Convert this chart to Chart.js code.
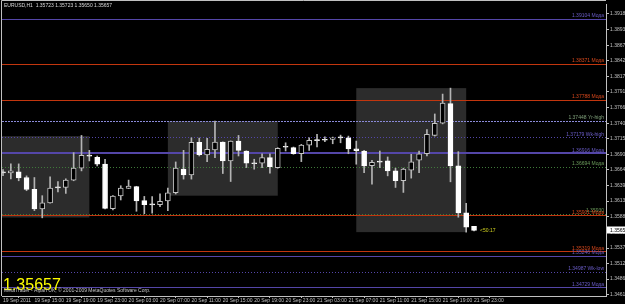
<!DOCTYPE html>
<html><head><meta charset="utf-8">
<script src="https://cdn.jsdelivr.net/npm/chart.js@4/dist/chart.umd.min.js"></script>
<style>html,body{margin:0;padding:0;background:#000;overflow:hidden}#wrap{width:625px;height:304px;position:relative}</style>
</head><body><div id="wrap"><canvas id="c" width="625" height="304"></canvas></div>
<script>
// ---------- data ----------
const symbol = 'EURUSD,H1';
const timeTicks = ['19 Sep 2011','19 Sep 15:00','19 Sep 19:00','19 Sep 23:00','20 Sep 03:00','20 Sep 07:00','20 Sep 11:00','20 Sep 15:00','20 Sep 19:00','20 Sep 23:00','21 Sep 03:00','21 Sep 07:00','21 Sep 11:00','21 Sep 15:00','21 Sep 19:00','21 Sep 23:00'];
const barsPerTick = 4;
const open  = [1.36600,1.36595,1.36611,1.36519,1.36325,1.36008,1.36105,1.36355,1.36357,1.36477,1.36671,1.36875,1.36849,1.36736,1.36012,1.36218,1.36341,1.36373,1.36142,1.36080,1.36077,1.36137,1.36271,1.36655,1.36563,1.37092,1.36886,1.36967,1.37097,1.36789,1.37113,1.36951,1.36748,1.36752,1.36843,1.36681,1.37012,1.37005,1.36907,1.37048,1.37120,1.37131,1.37141,1.37168,1.37166,1.36988,1.36951,1.36713,1.36770,1.36789,1.36627,1.36466,1.36639,1.36801,1.36907,1.37205,1.37404,1.37723,1.36708,1.35943,1.35723];
const high  = [1.36650,1.36741,1.36741,1.36546,1.36519,1.36223,1.36530,1.36454,1.36498,1.36924,1.37205,1.36962,1.36870,1.36817,1.36223,1.36385,1.36477,1.36376,1.36211,1.36207,1.36255,1.36347,1.36773,1.36962,1.37166,1.37162,1.37157,1.37437,1.37100,1.37115,1.37205,1.36955,1.36817,1.36907,1.36907,1.37005,1.37085,1.37016,1.37059,1.37166,1.37221,1.37183,1.37178,1.37210,1.37194,1.37113,1.36962,1.36801,1.36951,1.36854,1.36671,1.36671,1.36898,1.36951,1.37302,1.37555,1.37879,1.37976,1.36940,1.36098,1.35723];
const low   = [1.36550,1.36498,1.36466,1.36304,1.35980,1.35862,1.36100,1.36283,1.36260,1.36466,1.36627,1.36789,1.36708,1.36008,1.35991,1.36153,1.36338,1.35969,1.35927,1.35936,1.36045,1.35980,1.36250,1.36493,1.36493,1.36870,1.36778,1.36843,1.36584,1.36454,1.36870,1.36681,1.36655,1.36681,1.36590,1.36671,1.36951,1.36898,1.36778,1.36962,1.37016,1.37102,1.37069,1.37085,1.36907,1.36736,1.36600,1.36412,1.36681,1.36546,1.36357,1.36276,1.36509,1.36600,1.36870,1.37194,1.37393,1.36449,1.35872,1.35629,1.35650];
const close = [1.36595,1.36627,1.36514,1.36325,1.36008,1.36105,1.36347,1.36350,1.36477,1.36671,1.36882,1.36868,1.36736,1.36017,1.36218,1.36347,1.36380,1.36137,1.36077,1.36074,1.36131,1.36271,1.36671,1.36563,1.37092,1.36891,1.36979,1.37097,1.36789,1.37113,1.36962,1.36752,1.36744,1.36843,1.36697,1.36995,1.37018,1.36907,1.37048,1.37124,1.37126,1.37127,1.37166,1.37164,1.36984,1.36956,1.36708,1.36768,1.36776,1.36627,1.36466,1.36655,1.36773,1.36907,1.37221,1.37404,1.37733,1.36708,1.35943,1.35710,1.35657];
const priceTicks = [1.39185,1.38930,1.38675,1.38425,1.38170,1.37915,1.37660,1.37405,1.37150,1.36900,1.36645,1.36390,1.36135,1.35880,1.35625,1.35370,1.35120,1.34865,1.34610];
const priceMin = 1.34588, priceMax = 1.39347;
const barMin = -0.127, barMax = 76.81;
// horizontal levels
const levelPrices = [1.39104,1.38371,1.37788,1.37448,1.37179,1.36916,1.36694,1.35930,1.35901,1.35319,1.35246,1.34987,1.34729];
const levelTags   = ['Мода','Мода','Мода','Yr-high','Wk-high','Мода','Мода','','Мода','Мода','Мода','Wk-low','Мода'];
const levelKinds  = ['purple','red','red','lav','purpleDot','purpleThick','green','green','red','red','purple','purpleDot','purple'];
// session boxes (bar index from/to, price top/bottom)
const boxFrom = [-3, 21, 45];
const boxTo   = [11, 35, 59];
const boxHigh = [1.37194, 1.37437, 1.37976];
const boxLow  = [1.35867, 1.36223, 1.35629];
const timerText = '<50:17';
const infoText = 'MetaTrader - Alpari UK, © 2001-2009 MetaQuotes Software Corp.';

// ---------- styles ----------
const kindStyle = {
  purple:      {color:'#5446a8', width:1, dash:[],    text:'#6a5cc8'},
  purpleThick: {color:'#5446a8', width:2, dash:[],    text:'#6a5cc8'},
  purpleDot:   {color:'#5446a8', width:1, dash:[1,2], text:'#6a5cc8'},
  lav:         {color:'#8a8ad8', width:1, dash:[2,1], text:'#7fa07a'},
  red:         {color:'#c2360e', width:1, dash:[],    text:'#d8481c'},
  green:       {color:'#3f7a3a', width:1, dash:[1,2], text:'#6a9a5a'}
};
const FONT = 'Liberation Sans, Arial, sans-serif';
const axisColor = '#c0c0c0';

const idx = close.map((_, i) => i);
const isBear = i => close[i] < open[i];
const isDoji = i => Math.abs(close[i] - open[i]) < 0.0001;

const mtPlugin = {
  id: 'mt',
  beforeDraw(chart) {
    const c = chart.ctx;
    c.save(); c.fillStyle = '#000'; c.fillRect(0, 0, chart.width, chart.height); c.restore();
  },
  beforeDatasetsDraw(chart) {
    const {ctx, chartArea: a, scales: {x, y}} = chart;
    ctx.save();
    ctx.beginPath(); ctx.rect(a.left, a.top, a.right - a.left, a.bottom - a.top); ctx.clip();
    ctx.fillStyle = '#2c2c2c';
    boxFrom.forEach((b, k) => {
      const x1 = x.getPixelForValue(b), x2 = x.getPixelForValue(boxTo[k]);
      const y1 = y.getPixelForValue(boxHigh[k]), y2 = y.getPixelForValue(boxLow[k]);
      ctx.fillRect(x1, y1, x2 - x1, y2 - y1);
    });
    levelPrices.forEach((p, k) => {
      const s = kindStyle[levelKinds[k]];
      const py = Math.round(y.getPixelForValue(p)) + (s.width === 1 ? 0.5 : 0);
      ctx.strokeStyle = s.color; ctx.lineWidth = s.width; ctx.setLineDash(s.dash);
      ctx.beginPath(); ctx.moveTo(a.left, py); ctx.lineTo(a.right, py); ctx.stroke();
    });
    ctx.setLineDash([]);
    ctx.font = '5px ' + FONT; ctx.textAlign = 'right'; ctx.textBaseline = 'alphabetic';
    levelPrices.forEach((p, k) => {
      const s = kindStyle[levelKinds[k]];
      const py = y.getPixelForValue(p);
      const t = p.toFixed(5) + (levelTags[k] ? ' ' + levelTags[k] : '');
      ctx.fillStyle = s.text;
      ctx.fillText(t, a.right - 2, py - 1.5);
    });
    ctx.restore();
  },
  afterDraw(chart) {
    const {ctx, chartArea: a, scales: {x, y}} = chart;
    const last = close.length - 1;
    ctx.save();
    // frame
    ctx.strokeStyle = axisColor; ctx.lineWidth = 1;
    ctx.beginPath(); ctx.moveTo(1.5, a.bottom); ctx.lineTo(1.5, 0.5); ctx.lineTo(a.right, 0.5); ctx.stroke();
    // header
    ctx.font = '5px ' + FONT; ctx.textAlign = 'left'; ctx.textBaseline = 'top';
    ctx.fillStyle = '#d8d8d8';
    ctx.fillText(symbol + '  ' + [open[last], high[last], low[last], close[last]].map(v => v.toFixed(5)).join(' '), 4, 3);
    // big price
    ctx.textBaseline = 'alphabetic';
    ctx.font = '16px ' + FONT; ctx.fillStyle = '#ffff00';
    ctx.fillText(close[last].toFixed(5), 3, 290);
    ctx.font = '5px ' + FONT; ctx.fillStyle = '#c8c8c8';
    ctx.fillText(infoText, 4, 292);
    // timer
    ctx.fillStyle = '#d0d020'; ctx.textBaseline = 'middle';
    ctx.fillText(timerText, x.getPixelForValue(last) + 6, y.getPixelForValue(close[last]) + 0.5);
    // current price box on axis
    const py = y.getPixelForValue(close[last]);
    ctx.fillStyle = '#ffffff';
    ctx.fillRect(a.right + 1, Math.round(py) - 3.5, 20, 7);
    ctx.fillStyle = '#000000'; ctx.textAlign = 'left';
    ctx.fillText(close[last].toFixed(5), a.right + 4, py);
    ctx.restore();
  }
};

new Chart(document.getElementById('c'), {
  type: 'bar',
  data: {
    datasets: [
      {
        label: 'bodies', order: 0, grouped: false,
        data: idx.map(i => ({x: i, y: [open[i], close[i]]})),
        backgroundColor: idx.map(i => isDoji(i) ? '#e0e0e0' : (isBear(i) ? '#ffffff' : '#000000')),
        borderColor: idx.map(i => isBear(i) || isDoji(i) ? '#ffffff' : '#c4c4c4'),
        borderWidth: 1, borderSkipped: false, barThickness: 5, minBarLength: 1
      },
      {
        label: 'wicks', order: 1, grouped: false,
        data: idx.map(i => ({x: i, y: [low[i], high[i]]})),
        backgroundColor: '#b4b4b4', borderWidth: 0, barThickness: 1
      }
    ]
  },
  options: {
    responsive: false, animation: false, devicePixelRatio: 1,
    layout: {padding: {left: 2, top: 2, right: 0, bottom: 0}},
    plugins: {legend: {display: false}, tooltip: {enabled: false}},
    scales: {
      x: {
        type: 'linear', min: barMin, max: barMax, offset: false,
        afterBuildTicks: s => { s.ticks = timeTicks.map((_, k) => ({value: k * barsPerTick})); },
        afterFit: s => { s.height = 8; },
        ticks: {
          autoSkip: false, maxRotation: 0, align: 'start', padding: 0,
          color: axisColor, font: {family: FONT, size: 5},
          callback: (v, k) => timeTicks[k]
        },
        grid: {display: true, drawOnChartArea: false, drawTicks: true, tickLength: 2, color: axisColor},
        border: {display: true, color: axisColor}
      },
      y: {
        type: 'linear', position: 'right', min: priceMin, max: priceMax,
        afterBuildTicks: s => { s.ticks = priceTicks.map(v => ({value: v})); },
        afterFit: s => { s.width = 19; },
        ticks: {
          autoSkip: false, padding: 1, color: axisColor, font: {family: FONT, size: 5},
          callback: v => Number(v).toFixed(5)
        },
        grid: {display: true, drawOnChartArea: false, drawTicks: true, tickLength: 3, color: axisColor},
        border: {display: true, color: axisColor}
      }
    }
  },
  plugins: [mtPlugin]
});
</script>
</body></html>
